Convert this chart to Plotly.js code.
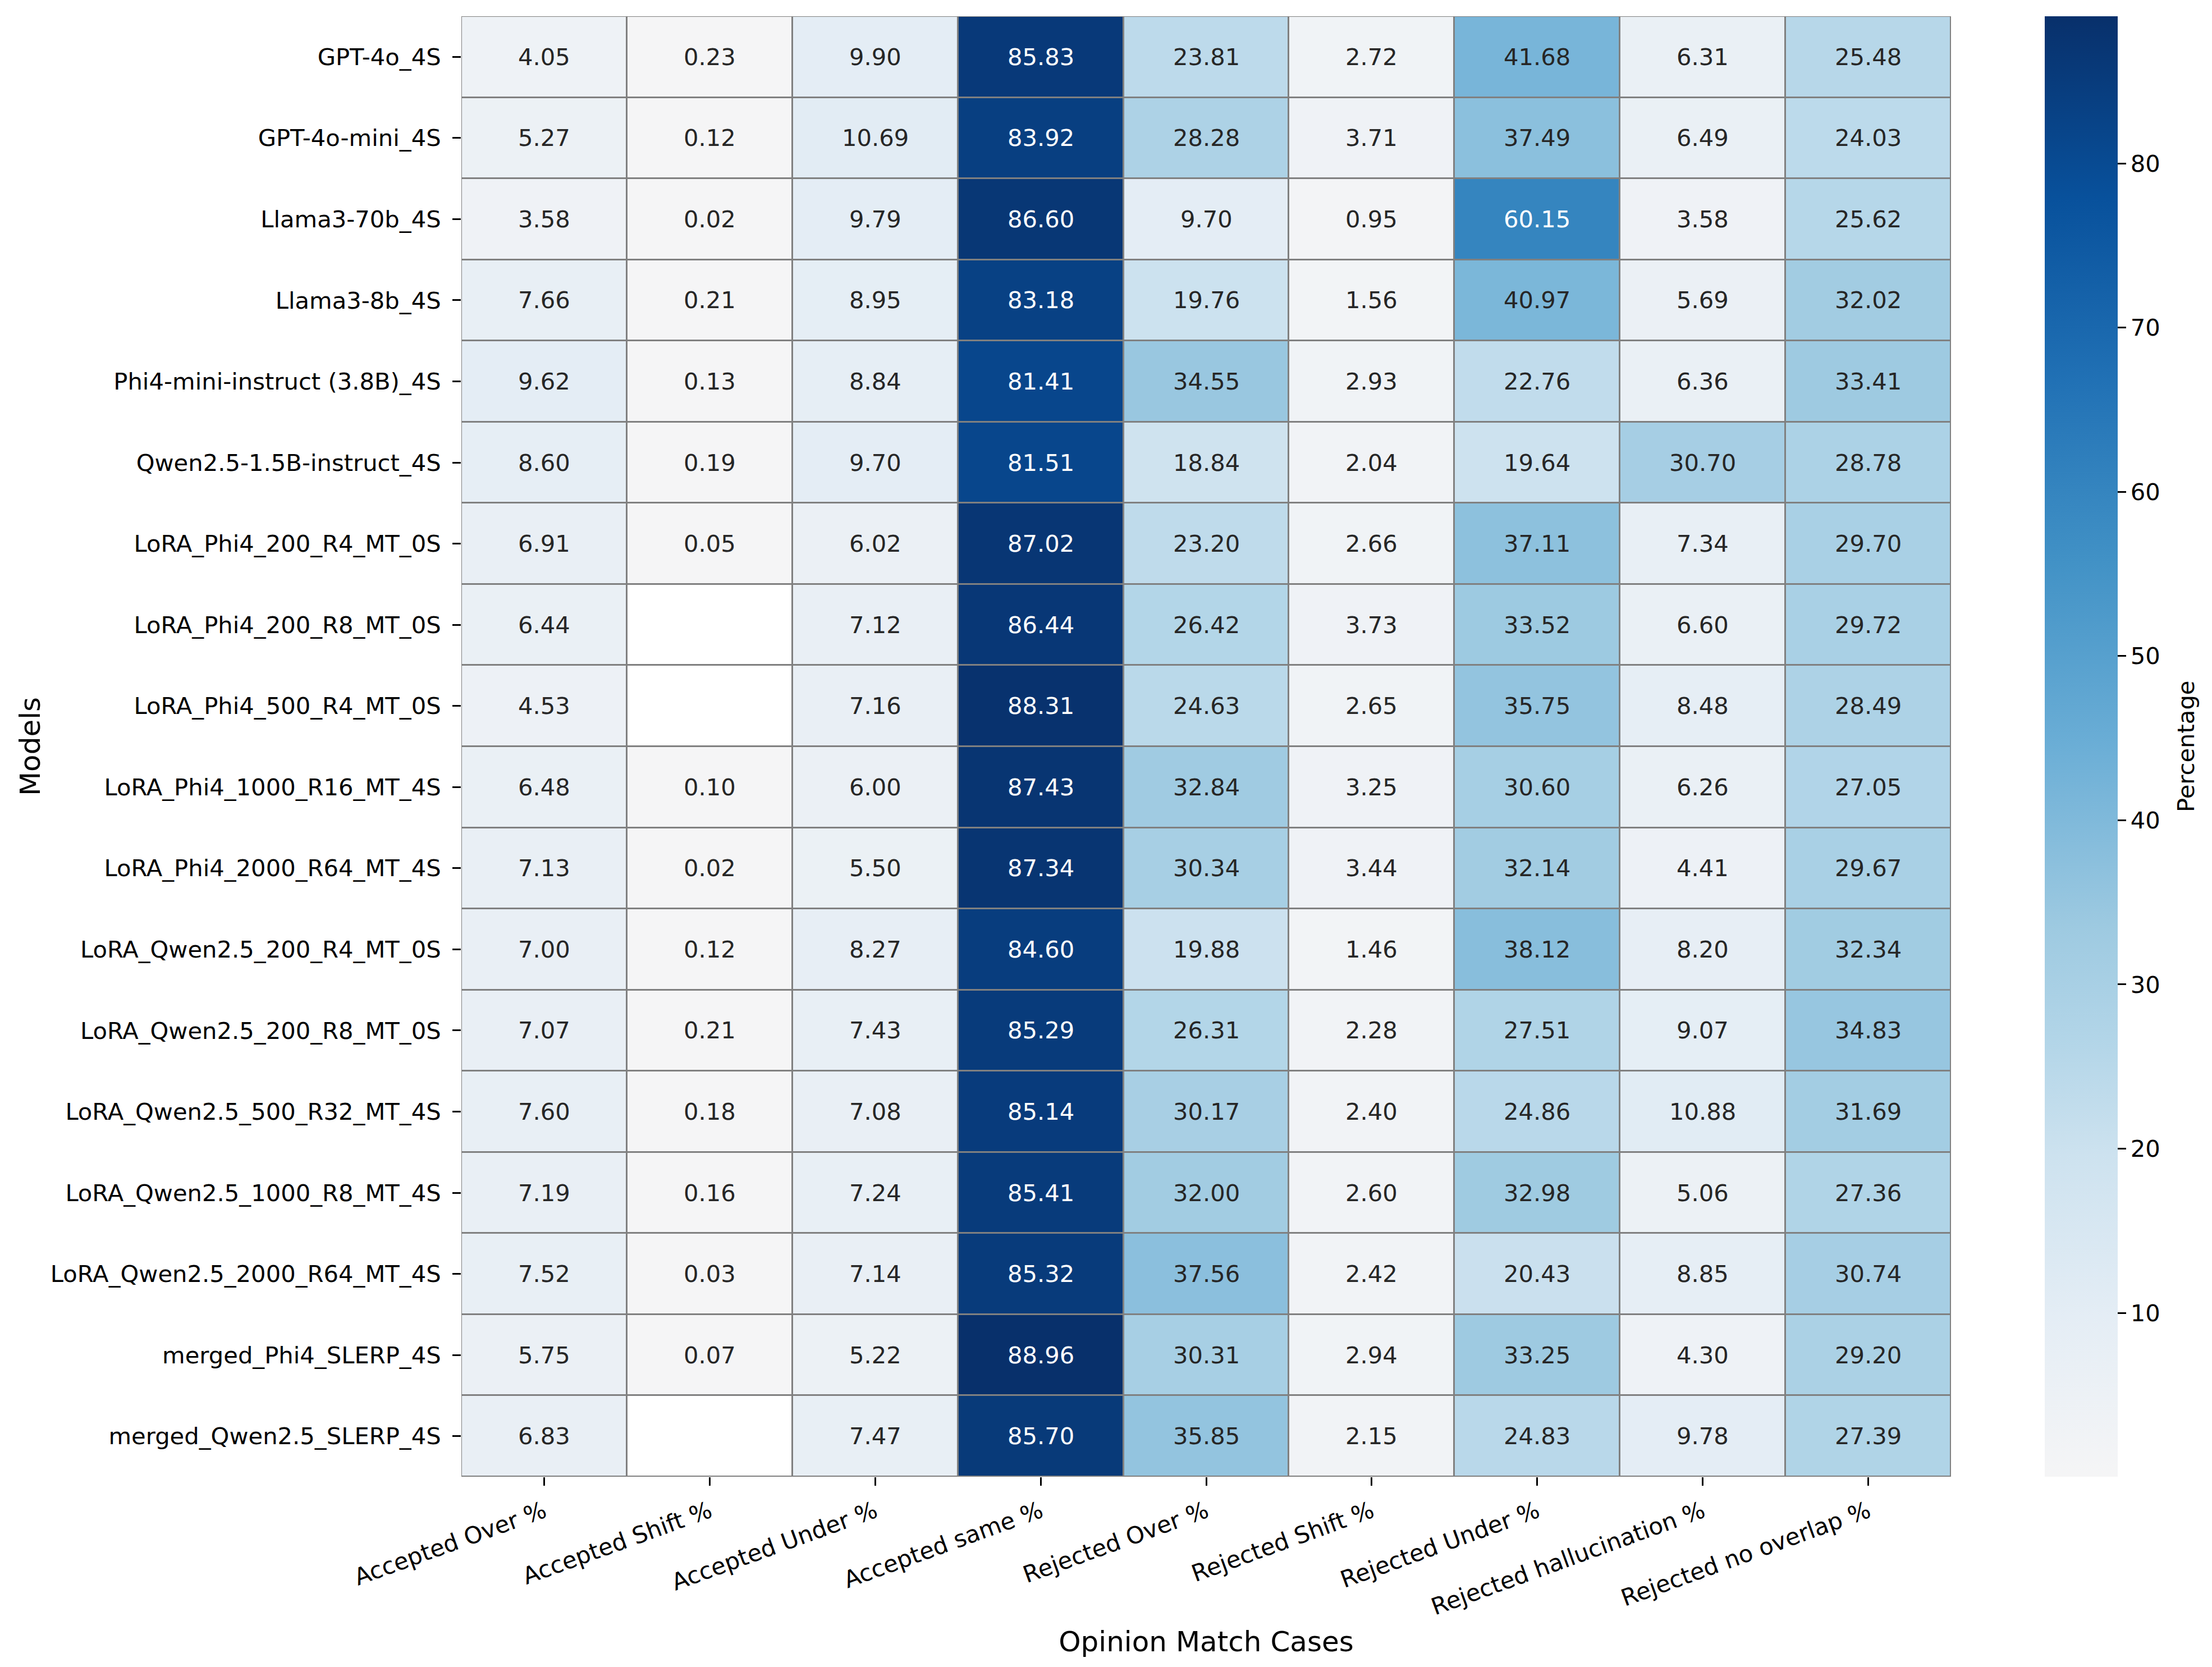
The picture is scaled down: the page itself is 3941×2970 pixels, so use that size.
<!DOCTYPE html>
<html>
<head>
<meta charset="utf-8">
<script src="https://cdn.plot.ly/plotly-3.0.1.min.js"></script>
<style>html,body{margin:0;padding:0;background:#fff;}</style>
</head>
<body>
<div id="chart" style="width:3941px;height:2970px;"></div>
<script>
const models = [
  "GPT-4o_4S", "GPT-4o-mini_4S", "Llama3-70b_4S", "Llama3-8b_4S",
  "Phi4-mini-instruct (3.8B)_4S", "Qwen2.5-1.5B-instruct_4S",
  "LoRA_Phi4_200_R4_MT_0S", "LoRA_Phi4_200_R8_MT_0S", "LoRA_Phi4_500_R4_MT_0S",
  "LoRA_Phi4_1000_R16_MT_4S", "LoRA_Phi4_2000_R64_MT_4S",
  "LoRA_Qwen2.5_200_R4_MT_0S", "LoRA_Qwen2.5_200_R8_MT_0S",
  "LoRA_Qwen2.5_500_R32_MT_4S", "LoRA_Qwen2.5_1000_R8_MT_4S",
  "LoRA_Qwen2.5_2000_R64_MT_4S", "merged_Phi4_SLERP_4S", "merged_Qwen2.5_SLERP_4S"
];
const cases = [
  "Accepted Over %", "Accepted Shift %", "Accepted Under %", "Accepted same %",
  "Rejected Over %", "Rejected Shift %", "Rejected Under %",
  "Rejected hallucination %", "Rejected no overlap %"
];
const acceptedOver   = [4.05, 5.27, 3.58, 7.66, 9.62, 8.60, 6.91, 6.44, 4.53, 6.48, 7.13, 7.00, 7.07, 7.60, 7.19, 7.52, 5.75, 6.83];
const acceptedShift  = [0.23, 0.12, 0.02, 0.21, 0.13, 0.19, 0.05, null, null, 0.10, 0.02, 0.12, 0.21, 0.18, 0.16, 0.03, 0.07, null];
const acceptedUnder  = [9.90, 10.69, 9.79, 8.95, 8.84, 9.70, 6.02, 7.12, 7.16, 6.00, 5.50, 8.27, 7.43, 7.08, 7.24, 7.14, 5.22, 7.47];
const acceptedSame   = [85.83, 83.92, 86.60, 83.18, 81.41, 81.51, 87.02, 86.44, 88.31, 87.43, 87.34, 84.60, 85.29, 85.14, 85.41, 85.32, 88.96, 85.70];
const rejectedOver   = [23.81, 28.28, 9.70, 19.76, 34.55, 18.84, 23.20, 26.42, 24.63, 32.84, 30.34, 19.88, 26.31, 30.17, 32.00, 37.56, 30.31, 35.85];
const rejectedShift  = [2.72, 3.71, 0.95, 1.56, 2.93, 2.04, 2.66, 3.73, 2.65, 3.25, 3.44, 1.46, 2.28, 2.40, 2.60, 2.42, 2.94, 2.15];
const rejectedUnder  = [41.68, 37.49, 60.15, 40.97, 22.76, 19.64, 37.11, 33.52, 35.75, 30.60, 32.14, 38.12, 27.51, 24.86, 32.98, 20.43, 33.25, 24.83];
const rejectedHalluc = [6.31, 6.49, 3.58, 5.69, 6.36, 30.70, 7.34, 6.60, 8.48, 6.26, 4.41, 8.20, 9.07, 10.88, 5.06, 8.85, 4.30, 9.78];
const rejectedNoOver = [25.48, 24.03, 25.62, 32.02, 33.41, 28.78, 29.70, 29.72, 28.49, 27.05, 29.67, 32.34, 34.83, 31.69, 27.36, 30.74, 29.20, 27.39];

const columns = [acceptedOver, acceptedShift, acceptedUnder, acceptedSame,
                 rejectedOver, rejectedShift, rejectedUnder, rejectedHalluc, rejectedNoOver];

const z = models.map((m, i) => columns.map(col => col[i]));
const zBase = models.map(() => cases.map(() => 0));

const allVals = z.flat().filter(v => v !== null);
const zmin = Math.min(...allVals);
const zmax = Math.max(...allVals);

const blues = [
  [0.0, 'rgb(245,245,246)'],
  [0.11, 'rgb(228,237,245)'],
  [0.22, 'rgb(205,226,239)'],
  [0.30, 'rgb(178,213,232)'],
  [0.375, 'rgb(158,202,225)'],
  [0.5, 'rgb(107,174,214)'],
  [0.625, 'rgb(66,146,198)'],
  [0.75, 'rgb(33,113,181)'],
  [0.875, 'rgb(8,81,156)'],
  [1.0, 'rgb(8,48,107)']
];

const FONT = 'DejaVu Sans, sans-serif';
const GAP = 3;

const base = {
  type: 'heatmap', x: cases, y: models, z: zBase,
  colorscale: [[0, '#ffffff'], [1, '#ffffff']], showscale: false,
  xgap: GAP, ygap: GAP, hoverinfo: 'skip'
};

const heat = {
  type: 'heatmap', x: cases, y: models, z: z,
  zmin: zmin, zmax: zmax, colorscale: blues,
  xgap: GAP, ygap: GAP,
  colorbar: {
    x: 1.0629, xanchor: 'left', xpad: 0,
    y: 0.5, yanchor: 'middle', ypad: 0,
    len: 1, lenmode: 'fraction',
    thickness: 130, thicknessmode: 'pixels',
    outlinewidth: 0,
    tick0: 0, dtick: 10,
    ticks: 'outside', ticklen: 15, tickwidth: 3, tickcolor: '#000',
    tickfont: {family: FONT, size: 41.7, color: '#000'}
  }
};

const annotations = [];
models.forEach((m, i) => {
  cases.forEach((c, j) => {
    const v = z[i][j];
    if (v === null) return;
    annotations.push({
      x: c, y: m, xref: 'x', yref: 'y', text: v.toFixed(2), showarrow: false,
      font: {family: FONT, size: 41.7, color: v > 50 ? '#ffffff' : '#262626'}
    });
  });
});
annotations.push({
  text: 'Percentage', xref: 'paper', yref: 'paper', x: 1.1575, y: 0.5,
  xanchor: 'center', yanchor: 'middle', textangle: -90, showarrow: false,
  font: {family: FONT, size: 41.7, color: '#000'}
});

const layout = {
  width: 3941, height: 2970,
  margin: {l: 822, r: 465, t: 29, b: 339, pad: 0},
  paper_bgcolor: '#ffffff',
  plot_bgcolor: '#808080',
  font: {family: FONT, color: '#000'},
  showlegend: false,
  xaxis: {
    type: 'category', showgrid: false, zeroline: false, showline: false,
    ticks: 'outside', ticklen: 15, tickwidth: 3, tickcolor: '#000',
    tickangle: -20, tickfont: {family: FONT, size: 41.7, color: '#000'},
    ticklabelstandoff: 6,
    title: {text: 'Opinion Match Cases', font: {family: FONT, size: 50, color: '#000'}, standoff: 20},
    automargin: false
  },
  yaxis: {
    type: 'category', autorange: 'reversed', showgrid: false, zeroline: false, showline: false,
    ticks: 'outside', ticklen: 15, tickwidth: 3, tickcolor: '#000',
    tickfont: {family: FONT, size: 41.7, color: '#000'},
    ticklabelstandoff: 12,
    title: {text: 'Models', font: {family: FONT, size: 50, color: '#000'}, standoff: 2},
    automargin: false
  },
  annotations: annotations
};

Plotly.newPlot('chart', [base, heat], layout, {displayModeBar: false, staticPlot: true});
</script>
</body>
</html>
